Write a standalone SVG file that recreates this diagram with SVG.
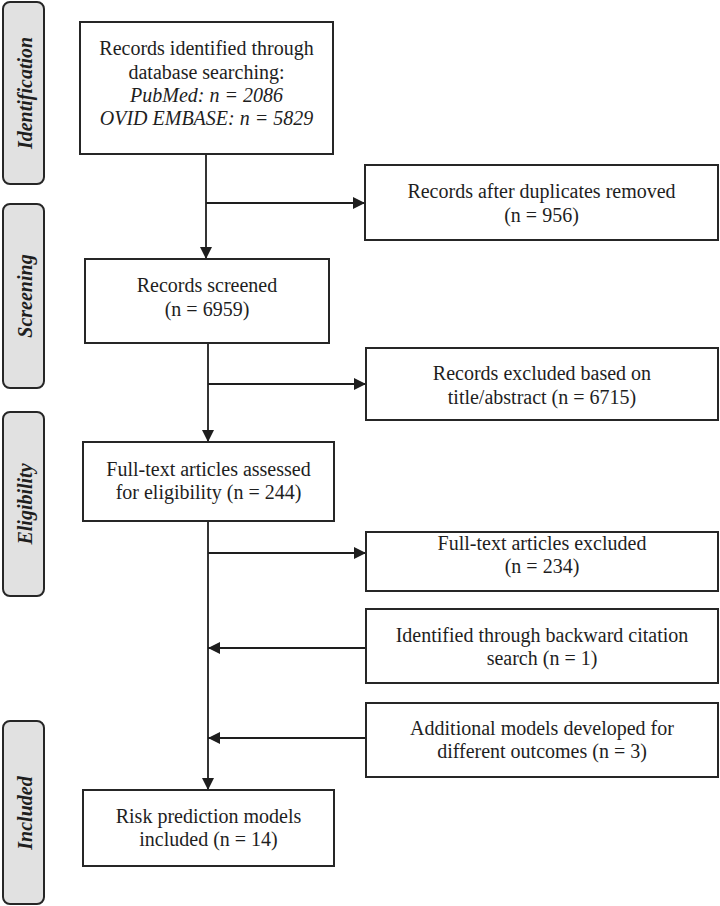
<svg xmlns="http://www.w3.org/2000/svg" width="720" height="906" viewBox="0 0 720 906">
<style>
.box{fill:#fff;stroke:#262626;stroke-width:2}
.phase{fill:#e1e1e1;stroke:#262626;stroke-width:2}
.t{font-family:"Liberation Serif","Times New Roman",serif;font-size:20px;fill:#1e1e1e;text-anchor:middle}
.it{font-style:italic}
.ph{font-family:"Liberation Serif","Times New Roman",serif;font-size:20px;font-weight:bold;font-style:italic;fill:#1e1e1e;text-anchor:middle}
.ln{fill:none;stroke:#1e1e1e;stroke-width:1.8}
</style>
<defs>
<marker id="ah" markerUnits="userSpaceOnUse" markerWidth="12" markerHeight="12" refX="12" refY="6" orient="auto">
<path d="M0,0 L12,6 L0,12 z" fill="#1e1e1e"/>
</marker>
</defs>
<rect width="720" height="906" fill="#fff"/>
<g id="phase-identification"><rect class="phase" x="3" y="2" width="41" height="182" rx="7"/><text class="ph" transform="translate(31.5,93) rotate(-90)">Identification</text></g>
<g id="phase-screening"><rect class="phase" x="3" y="204" width="41" height="184" rx="7"/><text class="ph" transform="translate(31.5,296) rotate(-90)">Screening</text></g>
<g id="phase-eligibility"><rect class="phase" x="3" y="412" width="41" height="184" rx="7"/><text class="ph" transform="translate(31.5,504) rotate(-90)">Eligibility</text></g>
<g id="phase-included"><rect class="phase" x="3" y="721" width="41" height="183" rx="7"/><text class="ph" transform="translate(31.5,813) rotate(-90)">Included</text></g>
<g id="connectors">
<path class="ln" d="M206,154 V259" marker-end="url(#ah)"/>
<path class="ln" d="M206,203 H365" marker-end="url(#ah)"/>
<path class="ln" d="M208,343 V442" marker-end="url(#ah)"/>
<path class="ln" d="M208,384 H366" marker-end="url(#ah)"/>
<path class="ln" d="M208,521 V790" marker-end="url(#ah)"/>
<path class="ln" d="M208,553 H366" marker-end="url(#ah)"/>
<path class="ln" d="M366,648 H208" marker-end="url(#ah)"/>
<path class="ln" d="M366,738 H208" marker-end="url(#ah)"/>
</g>
<g id="n-identified"><rect class="box" x="80" y="22" width="253" height="132"/>
<text class="t" x="206.5" y="55">Records identified through</text>
<text class="t" x="206.5" y="79">database searching:</text>
<text class="t it" x="206.5" y="102">PubMed: n = 2086</text>
<text class="t it" x="206.5" y="125">OVID EMBASE: n = 5829</text></g>
<g id="n-duplicates"><rect class="box" x="365" y="165" width="353" height="75"/>
<text class="t" x="541.5" y="198">Records after duplicates removed</text>
<text class="t" x="541.5" y="222">(n = 956)</text></g>
<g id="n-screened"><rect class="box" x="85" y="259" width="244" height="84"/>
<text class="t" x="207" y="292">Records screened</text>
<text class="t" x="207" y="316">(n = 6959)</text></g>
<g id="n-excluded-title"><rect class="box" x="366" y="348" width="352" height="72"/>
<text class="t" x="542" y="380">Records excluded based on</text>
<text class="t" x="542" y="404">title/abstract (n = 6715)</text></g>
<g id="n-fulltext"><rect class="box" x="83" y="442" width="251" height="79"/>
<text class="t" x="208.5" y="476">Full-text articles assessed</text>
<text class="t" x="208.5" y="499">for eligibility (n = 244)</text></g>
<g id="n-fulltext-excluded"><rect class="box" x="366" y="532" width="352" height="59"/>
<text class="t" x="542" y="550">Full-text articles excluded</text>
<text class="t" x="542" y="573">(n = 234)</text></g>
<g id="n-backward"><rect class="box" x="366" y="609" width="352" height="74"/>
<text class="t" x="542" y="642">Identified through backward citation</text>
<text class="t" x="542" y="665">search (n = 1)</text></g>
<g id="n-additional"><rect class="box" x="366" y="703" width="352" height="74"/>
<text class="t" x="542" y="735">Additional models developed for</text>
<text class="t" x="542" y="758">different outcomes (n = 3)</text></g>
<g id="n-included"><rect class="box" x="83" y="790" width="251" height="76"/>
<text class="t" x="208.5" y="823">Risk prediction models</text>
<text class="t" x="208.5" y="846">included (n = 14)</text></g>
</svg>
